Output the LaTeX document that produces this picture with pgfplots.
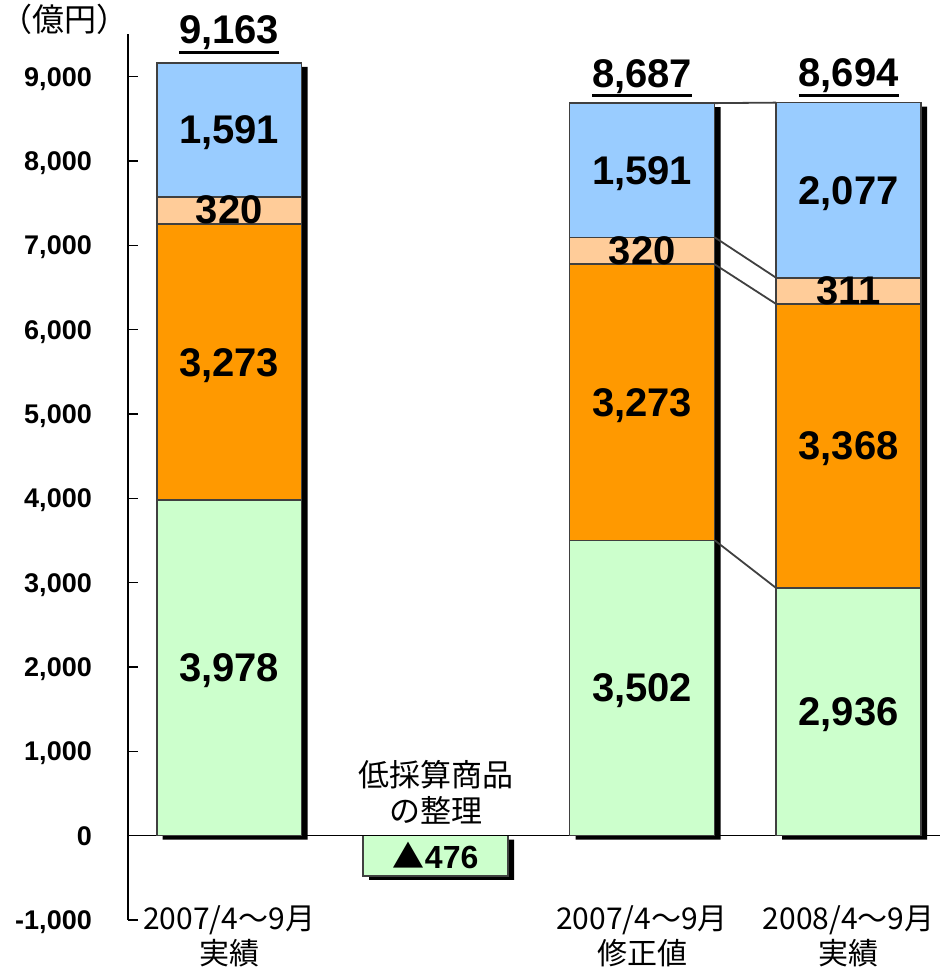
\documentclass[border=0pt]{standalone}
\usepackage{pgfplots}
\pgfplotsset{compat=1.18}
\usepackage{fontspec}
\setmainfont{Liberation Sans}
\newfontfamily\cjk{Noto Sans CJK JP}
\definecolor{cgreen}{HTML}{CCFFCC}
\definecolor{corange}{HTML}{FF9900}
\definecolor{cpeach}{HTML}{FFCC99}
\definecolor{cblue}{HTML}{99CCFF}
\definecolor{cborder}{HTML}{404040}
\def\myundl#1{\vtop{\hbox{#1}\kern1pt\hrule height 2.8pt}}
\tikzset{lbl/.style={font=\fontsize{40}{40}\selectfont\bfseries, text depth=0pt}}
\pgfplotsset{common/.style={
  scale only axis, width=811.5pt, height=885.5pt,
  at={(128pt,51pt)}, anchor=south west,
  xmin=-0.49, xmax=3.44, ymin=-1000, ymax=9500,
  clip=false,
}}
\begin{document}
\begin{tikzpicture}
\path[use as bounding box] (0,0) rectangle (940pt,971pt);
% shadows, negative box, connectors
\begin{axis}[common, hide axis]
 \addplot[ybar, bar width=0.702, bar shift=0pt, fill=black, draw=none, xshift=6pt, yshift=-4pt]
   coordinates {(0,9162) (1,-476) (2,8686) (3,8692)};
 \addplot[ybar, bar width=0.702, bar shift=0pt, fill=cgreen, draw=cborder, line width=1.6pt]
   coordinates {(1,-476)};
 \addplot[cborder, line width=1.8pt, no marks] coordinates {(2.351,8686) (2.649,8692)};
 \addplot[cborder, line width=1.8pt, no marks] coordinates {(2.351,7095) (2.649,6615)};
 \addplot[cborder, line width=1.8pt, no marks] coordinates {(2.351,6775) (2.649,6304)};
 \addplot[cborder, line width=1.8pt, no marks] coordinates {(2.351,3502) (2.649,2936)};
 \node[font=\fontsize{32}{32}\selectfont\bfseries, text depth=0pt] at (axis cs:1,-238) {{\cjk ▲}476};
 \node[font=\cjk\fontsize{31}{31}\selectfont, anchor=base] at (axis cs:1,0) [yshift=49pt] {低採算商品};
 \node[font=\cjk\fontsize{31}{31}\selectfont, anchor=base] at (axis cs:1,0) [yshift=13pt] {の整理};
\end{axis}
\begin{axis}[common, ybar stacked, bar width=0.702,
  axis lines*=left,
  x axis line style={draw=none},
  y axis line style={black, line width=1.3pt},
  xtick={0,2,3},
  xticklabels={{2007/4～9月\\実績},{2007/4～9月\\修正値},{2008/4～9月\\実績}},
  xtick style={draw=none},
  ytick={-1000,0,1000,2000,3000,4000,5000,6000,7000,8000,9000},
  tick align=inside, major tick length=10pt,
  ytick style={black, line width=1.3pt},
  scaled y ticks=false,
  /pgf/number format/assume math mode=true,
  /pgf/number format/1000 sep={,},
  yticklabel style={font=\fontsize{27}{27}\selectfont\bfseries, inner sep=0pt, xshift=-36pt, text depth=0pt},
  xticklabel style={font=\cjk\fontsize{30}{35}\selectfont, align=center, anchor=north, inner sep=0pt, yshift=15pt},
  extra y ticks={0}, extra y tick labels={},
  extra y tick style={grid=major, major grid style={black, line width=1.2pt}},
]
 \addplot[fill=cgreen, draw=cborder, line width=1.6pt] coordinates {(0,3978) (2,3502) (3,2936)};
 \addplot[fill=corange, draw=cborder, line width=1.6pt] coordinates {(0,3273) (2,3273) (3,3368)};
 \addplot[fill=cpeach, draw=cborder, line width=1.6pt] coordinates {(0,320) (2,320) (3,311)};
 \addplot[fill=cblue, draw=cborder, line width=1.6pt] coordinates {(0,1591) (2,1591) (3,2077)};
\end{axis}
% value labels
\begin{axis}[common, hide axis]
 \node[lbl] at (axis cs:0,8372) {1,591};
 \node[lbl] at (axis cs:0,7422) {320};
 \node[lbl] at (axis cs:0,5614) {3,273};
 \node[lbl] at (axis cs:0,1989) {3,978};
 \node[lbl] at (axis cs:2,7890) {1,591};
 \node[lbl] at (axis cs:2,6935) {320};
 \node[lbl] at (axis cs:2,5138) {3,273};
 \node[lbl] at (axis cs:2,1751) {3,502};
 \node[lbl] at (axis cs:3,7653) {2,077};
 \node[lbl] at (axis cs:3,6460) {311};
 \node[lbl] at (axis cs:3,4620) {3,368};
 \node[lbl] at (axis cs:3,1468) {2,936};
 \node[lbl, anchor=base, inner sep=0pt] at (axis cs:0,9162) [yshift=19pt] {\myundl{9,163}};
 \node[lbl, anchor=base, inner sep=0pt] at (axis cs:2,8686) [yshift=16pt] {\myundl{8,687}};
 \node[lbl, anchor=base, inner sep=0pt] at (axis cs:3,8692) [yshift=16pt] {\myundl{8,694}};
\end{axis}
\node[font=\cjk\fontsize{32}{32}\selectfont, anchor=base west, inner sep=0pt] at (0pt,939pt) {（億円）};
\end{tikzpicture}
\end{document}
